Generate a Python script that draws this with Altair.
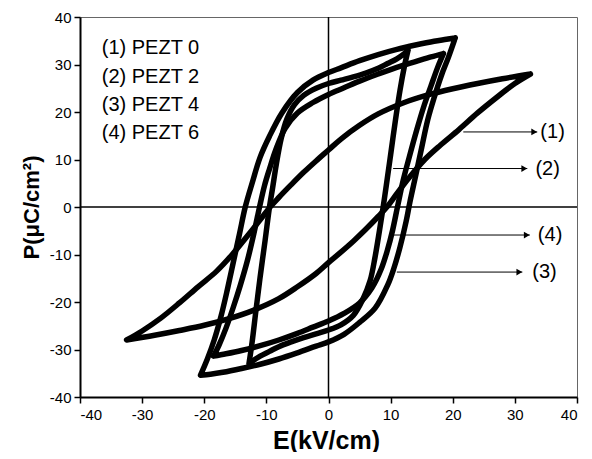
import altair as alt
import pandas as pd

FONT = "Liberation Sans"

# ---- Loop (1) PEZT 0 : slim loop ----
l1_up_E = [32.5, 28, 24, 20, 16, 12, 8, 5, 2, 0, -2, -4, -6, -8, -9.4, -11, -13, -15.5, -18, -21, -24, -27, -30, -32.5]
l1_up_P = [28.0, 27.0, 26.0, 24.9, 23.6, 21.9, 19.6, 17.2, 14.3, 12.0, 9.7, 7.3, 4.7, 2.0, 0.0, -2.7, -6.0, -10.0, -13.5, -16.8, -20.2, -23.4, -26.1, -28.0]
l1_lo_E = [-32.5, -28, -24, -20, -16, -12, -8, -5, -2, 0, 2, 4, 6, 8, 9.4, 11, 13, 15.5, 18, 21, 24, 27, 30, 32.5]
l1_lo_P = [-28.0, -27.0, -26.0, -24.9, -23.5, -21.7, -19.3, -16.8, -14.0, -11.7, -9.5, -7.2, -4.7, -2.0, 0.0, 2.8, 6.2, 10.0, 13.0, 16.3, 19.8, 23.0, 26.0, 28.0]

# ---- Loop (2) PEZT 2 : square loop ----
l2_up_E = [12.8, 12.2, 11.0, 9.5, 8.0, 6.0, 4.0, 2.0, 0.0, -2.0, -4.0, -5.5, -6.7, -7.6, -8.4, -9.0, -9.5, -10.2, -11.0, -11.7, -12.3, -12.8]
l2_up_P = [33.0, 32.3, 31.2, 30.2, 29.2, 28.2, 27.4, 26.7, 26.0, 25.0, 23.5, 21.5, 18.5, 14.5, 9.0, 4.0, 0.0, -7.0, -14.7, -22.0, -28.5, -33.0]
l2_lo_E = [-12.8, -12.2, -11.0, -9.5, -8.0, -6.0, -4.0, -2.0, 0.0, 2.0, 4.0, 5.5, 6.7, 7.5, 8.2, 8.8, 9.3, 10.0, 10.8, 11.5, 12.2, 12.8]
l2_lo_P = [-33.0, -32.4, -31.4, -30.4, -29.4, -28.4, -27.5, -26.7, -25.9, -24.8, -22.8, -19.5, -15.5, -10.5, -5.0, 0.0, 4.5, 11.0, 18.5, 24.5, 29.5, 33.0]

# ---- Loop (3) PEZT 4 : largest loop ----
l3_up_E = [20.4, 19.0, 17.0, 14.0, 11.0, 8.0, 5.0, 2.0, 0.0, -2.5, -5.0, -7.5, -9.5, -11.0, -12.3, -13.4, -14.3, -15.3, -16.3, -17.3, -18.4, -19.5, -20.6]
l3_up_P = [35.6, 35.3, 34.9, 34.1, 33.2, 32.1, 30.8, 29.3, 28.3, 26.7, 24.1, 19.8, 14.9, 10.5, 5.0, 0.0, -5.5, -11.5, -17.5, -23.0, -28.0, -32.0, -35.4]
l3_lo_E = [-20.6, -19.0, -17.0, -14.0, -11.0, -8.0, -5.0, -2.0, 0.0, 2.5, 5.0, 7.5, 9.5, 10.5, 11.5, 12.5, 13.1, 14.1, 15.0, 16.0, 17.0, 18.2, 19.3, 20.4]
l3_lo_P = [-35.4, -35.2, -34.8, -34.0, -33.1, -32.0, -30.7, -29.3, -28.4, -26.8, -24.3, -21.3, -16.5, -13.0, -8.5, -3.0, 1.0, 7.0, 12.5, 18.5, 23.0, 27.8, 31.5, 35.6]

# ---- Loop (4) PEZT 6 ----
l4_up_E = [18.5, 16.5, 14.0, 11.0, 8.0, 5.0, 2.5, 0.0, -2.5, -5.0, -7.0, -8.5, -9.5, -10.3, -11.1, -12.0, -13.0, -14.2, -15.3, -16.5, -17.6, -18.5]
l4_up_P = [32.3, 31.6, 30.6, 29.4, 28.0, 26.5, 25.1, 23.7, 22.0, 19.8, 16.5, 12.0, 8.0, 4.5, 0.0, -5.5, -11.0, -16.5, -21.0, -25.5, -29.0, -31.4]
l4_lo_E = [-18.5, -16.5, -14.0, -11.0, -8.0, -5.0, -2.5, 0.0, 2.5, 5.0, 7.0, 8.5, 9.5, 10.3, 11.1, 12.0, 13.0, 14.2, 15.3, 16.5, 17.6, 18.5]
l4_lo_P = [-31.4, -30.9, -30.2, -29.2, -28.0, -26.6, -25.3, -24.0, -22.4, -20.2, -17.0, -13.0, -9.0, -5.0, 0.0, 5.5, 10.5, 16.2, 21.0, 25.5, 29.5, 32.3]

legend_lines = ["(1) PEZT 0", "(2) PEZT 2", "(3) PEZT 4", "(4) PEZT 6"]
legend_P = [33.5, 27.4, 21.5, 15.6]
legend_E = [-36.5, -36.5, -36.5, -36.5]

# arrow annotations
arr_label = ["(1)", "(2)", "(4)", "(3)"]
arr_P = [15.8, 8.1, -5.9, -13.7]
arr_start = [21.7, 10.4, 10.0, 11.0]
arr_end = [33.6, 32.0, 32.4, 31.2]
arr_text_E = [34.1, 33.3, 33.7, 32.8]

x_ticks = [-40, -30, -20, -10, 0, 10, 20, 30, 40]
y_ticks = [-40, -30, -20, -10, 0, 10, 20, 30, 40]

loops = [
    ("1", l1_up_E + l1_lo_E, l1_up_P + l1_lo_P),
    ("2", l2_up_E + l2_lo_E, l2_up_P + l2_lo_P),
    ("3", l3_up_E + l3_lo_E, l3_up_P + l3_lo_P),
    ("4", l4_up_E + l4_lo_E, l4_up_P + l4_lo_P),
]
rows = []
for name, es, ps in loops:
    for i, (e, p) in enumerate(zip(es, ps)):
        rows.append({"loop": name, "i": i, "E": e, "P": p})
loop_df = pd.DataFrame(rows)

xscale = alt.Scale(domain=[-40, 40], nice=False, zero=False)
yscale = alt.Scale(domain=[-40, 40], nice=False, zero=False)

def X(field):
    return alt.X(field, type="quantitative", scale=xscale,
                 axis=alt.Axis(values=x_ticks, title="E(kV/cm)", titleFontSize=25,
                               titleBaseline="alphabetic", titleY=51, titleX=246,
                               labelPadding=4, labelExpr="'' + datum.value"))

def Y(field):
    return alt.Y(field, type="quantitative", scale=yscale,
                 axis=alt.Axis(values=y_ticks, title="P(μC/cm²)", titleFontSize=22,
                               titleBaseline="middle", titleX=-49, labelPadding=3,
                               labelExpr="'' + datum.value"))

curves = alt.Chart(loop_df).mark_line(
    color="black", strokeWidth=5.5, strokeJoin="round", strokeCap="round",
    interpolate="catmull-rom"
).encode(x=X("E"), y=Y("P"), detail="loop:N", order="i:Q")

zero_df = pd.DataFrame({"v": [0]})
hline = alt.Chart(zero_df).mark_rule(color="black", strokeWidth=1.5).encode(y=Y("v"))
vline = alt.Chart(zero_df).mark_rule(color="black", strokeWidth=1.5).encode(x=X("v"))

leg_df = pd.DataFrame({"t": legend_lines, "E": legend_E, "P": legend_P})
legend_text = alt.Chart(leg_df).mark_text(
    align="left", baseline="middle", fontSize=20, font=FONT, color="black"
).encode(x=X("E"), y=Y("P"), text="t:N")

arr_df = pd.DataFrame({"lab": arr_label, "P": arr_P, "s": arr_start, "e": arr_end,
                       "te": arr_text_E})
arrow_lines = alt.Chart(arr_df).mark_rule(color="black", strokeWidth=1).encode(
    x=X("s"), x2="e", y=Y("P"))
arrow_heads = alt.Chart(arr_df).mark_point(
    shape="triangle-right", filled=True, color="black", size=45, opacity=1, xOffset=-3
).encode(x=X("e"), y=Y("P"))
arrow_text = alt.Chart(arr_df).mark_text(
    align="left", baseline="middle", fontSize=20, font=FONT, color="black"
).encode(x=X("te"), y=Y("P"), text="lab:N")

chart = alt.layer(
    hline, vline, curves, legend_text, arrow_lines, arrow_heads, arrow_text
).properties(
    width=497, height=380,
    autosize=alt.AutoSizeParams(type="none"),
    padding={"left": 72, "top": 9, "right": 5, "bottom": 55},
).configure_axis(
    grid=False, domainColor="black", domainWidth=2, tickColor="black", tickWidth=1.5,
    tickSize=6, labelFont=FONT, labelFontSize=15, labelColor="black",
    titleFont=FONT, titleFontWeight="bold", titleColor="black",
).configure_view(stroke="#666666", strokeWidth=1)

chart.save("out.html", embed_options={"renderer": "svg", "actions": False})
